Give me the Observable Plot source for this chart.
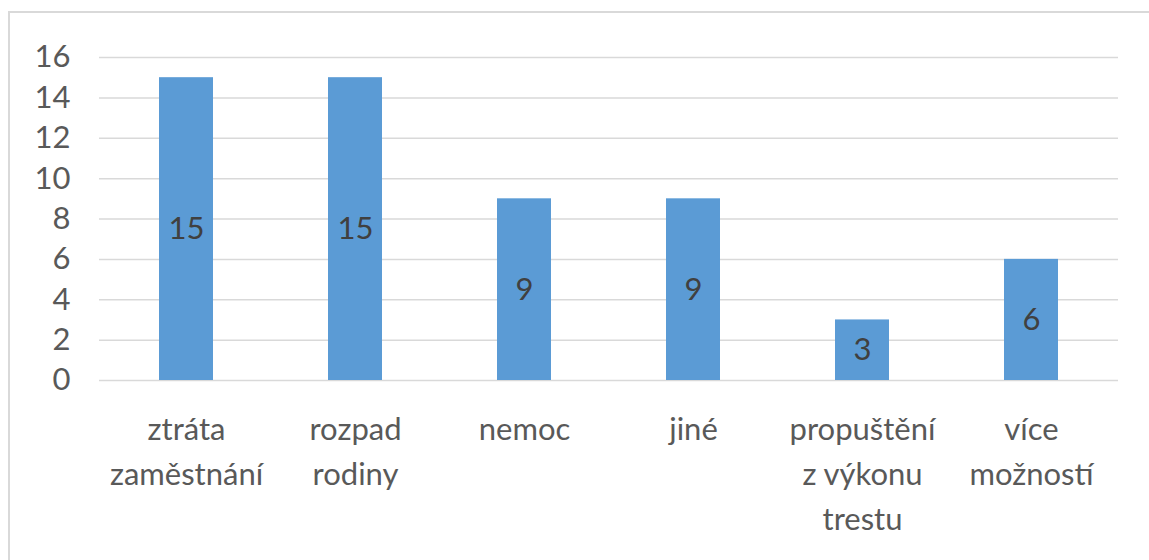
<!DOCTYPE html>
<html><head><meta charset="utf-8">
<script src="https://cdn.jsdelivr.net/npm/d3@7"></script>
<script src="https://cdn.jsdelivr.net/npm/@observablehq/plot@0.6"></script>
<style>
body{margin:0;background:#fff;overflow:hidden}
#frame{position:absolute;left:8px;top:11px;width:1200px;height:600px;border:2px solid #d9d9d9;box-sizing:border-box}
#chart{position:absolute;left:0;top:0}
</style></head><body>
<div id="frame"></div><div id="chart"></div>
<script>
const categories = ["ztráta\nzaměstnání", "rozpad\nrodiny", "nemoc", "jiné", "propuštění\nz výkonu\ntrestu", "více\nmožností"];
const values = [15, 15, 9, 9, 3, 6];
const yTicks = [0, 2, 4, 6, 8, 10, 12, 14, 16];

const data = categories.map((c, i) => ({cat: c, value: values[i]}));

const chart = Plot.plot({
  width: 1149,
  height: 560,
  marginLeft: 99,
  marginRight: 31,
  marginTop: 57,
  marginBottom: 180,
  style: {fontFamily: "Lato", background: "transparent"},
  x: {domain: categories, paddingInner: 0.682, paddingOuter: 0.341, label: null},
  y: {domain: [0, 16], label: null},
  marks: [
    Plot.ruleY(yTicks, {stroke: "#d9d9d9", strokeWidth: 1.5}),
    Plot.barY(data, {x: "cat", y: "value", fill: "#5b9bd5"}),
    Plot.text(data, {x: "cat", y: d => d.value / 2, text: d => String(d.value), fontSize: 31, fill: "#404040"}),
    Plot.axisY({ticks: yTicks, tickSize: 0, tickPadding: 29, fontSize: 31, fill: "#595959", label: null}),
    Plot.axisX({tickSize: 0, tickPadding: 28, fontSize: 31, lineHeight: 1.45, lineAnchor: "top", fill: "#595959", label: null})
  ]
});
document.getElementById("chart").appendChild(chart);
</script>
</body></html>
